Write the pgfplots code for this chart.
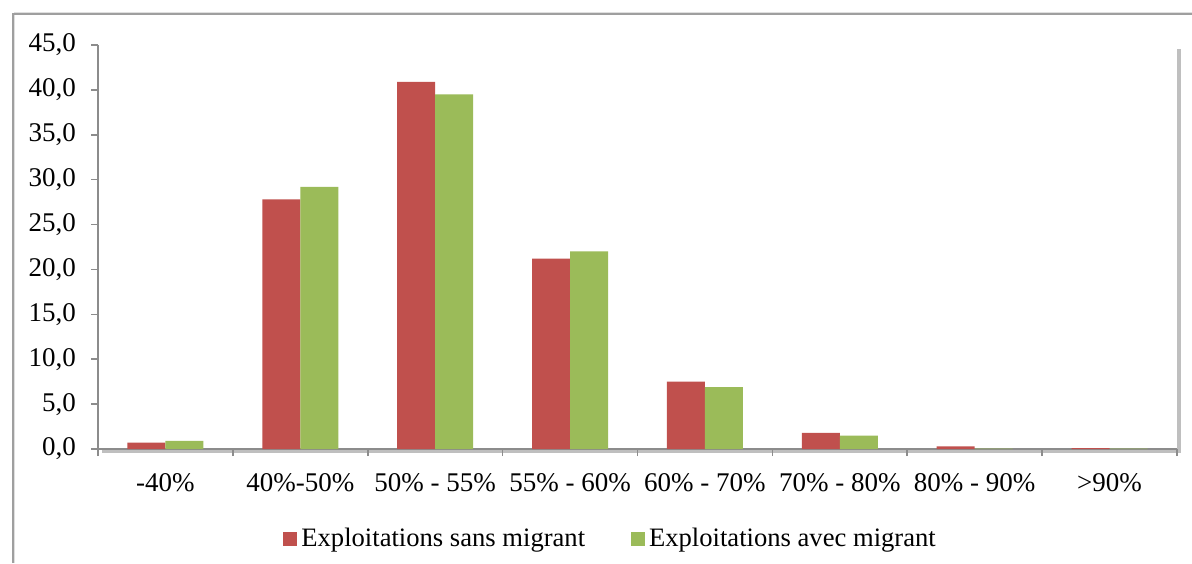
\documentclass[border=0pt]{standalone}
\usepackage{pgfplots}
\pgfplotsset{compat=1.18}
\usepackage{fontspec}
\setmainfont{Liberation Serif}
\usetikzlibrary{shadows}
\definecolor{cred}{HTML}{C0504D}
\definecolor{cgreen}{HTML}{9BBB59}
\definecolor{axgray}{HTML}{8C8C8C}
\begin{document}
\begin{tikzpicture}[x=1pt,y=1pt]
\useasboundingbox (0,0) rectangle (596,281.5);
\fill[gray!25] (7,0) rectangle (596,275.5);
\fill[white] (7.5,0) rectangle (596,274.5);
\draw[gray!75, line width=1pt] (6.5,0) -- (6.5,274.5) -- (596,274.5);
\begin{axis}[
  at={(49pt,57pt)}, anchor=south west,
  scale only axis, width=539.5pt, height=202pt,
  xmin=-0.5, xmax=7.5, ymin=0, ymax=45,
  ybar=0pt, bar width=19pt,
  axis x line*=bottom, axis y line*=left,
  axis line style={axgray, line width=0.8pt, -},
  axis background/.style={fill=white, drop shadow={shadow xshift=2pt, shadow yshift=-2pt, opacity=0.5}},
  xtick={0,...,7},
  xticklabels={-40\%, 40\%-50\%, 50\% - 55\%, 55\% - 60\%, 60\% - 70\%, 70\% - 80\%, 80\% - 90\%, >90\%},
  minor xtick={-0.5,0.5,...,7.5},
  major x tick style={draw=none},
  minor x tick style={axgray, line width=0.8pt},
  minor tick length=3.5pt,
  ytick={0,5,...,45},
  y tick style={axgray, line width=0.8pt},
  major tick length=3.5pt,
  tick align=outside,
  /pgf/number format/fixed, /pgf/number format/fixed zerofill, /pgf/number format/precision=1,
  /pgf/number format/use comma, /pgf/number format/assume math mode=true,
  yticklabel style={xshift=-4pt},
  xticklabel style={yshift=-5pt},
  ticklabel style={font=\fontsize{13.5}{15}\selectfont, text=black},
  legend columns=2,
  legend style={at={(0.476,-0.223)}, anchor=center, draw=none, fill=none,
    font=\fontsize{13.3}{15}\selectfont, /tikz/every even column/.append style={column sep=21pt}},
  legend image code/.code={\fill[#1] (0pt,-3.5pt) rectangle (7pt,3.5pt);},
]
\addplot[fill=cred, draw=none] coordinates {(0,0.7) (1,27.8) (2,40.9) (3,21.2) (4,7.5) (5,1.8) (6,0.3) (7,0.1)};
\addplot[fill=cgreen, draw=none] coordinates {(0,0.9) (1,29.2) (2,39.5) (3,22.0) (4,6.9) (5,1.5) (6,0.05) (7,0.05)};
\legend{Exploitations sans migrant, Exploitations avec migrant}
\end{axis}
\end{tikzpicture}
\end{document}
